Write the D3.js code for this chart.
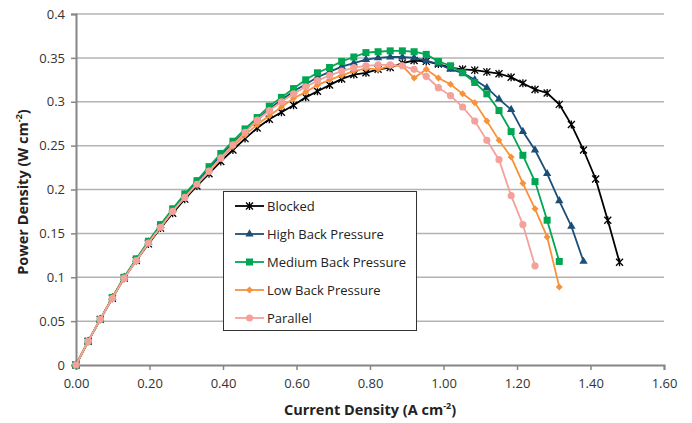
<!doctype html>
<html>
<head>
  <script src="https://cdnjs.cloudflare.com/ajax/libs/d3/7.8.5/d3.min.js"></script>
  <style>
    body { margin: 0; background: #fff; }
    svg { display: block; font-family: "Open Sans", sans-serif; }
  </style>
</head>
<body>
<svg id="chart" width="692" height="423"></svg>
<script>
  // current density (A cm-2), shared by all series
  var current = [0.000, 0.033, 0.066, 0.099, 0.131, 0.164, 0.197, 0.230, 0.263, 0.296,
                 0.329, 0.362, 0.394, 0.427, 0.460, 0.493, 0.526, 0.559, 0.592, 0.625,
                 0.657, 0.690, 0.723, 0.756, 0.789, 0.822, 0.855, 0.888, 0.920, 0.953,
                 0.986, 1.019, 1.052, 1.085, 1.118, 1.151, 1.184, 1.216, 1.249, 1.282,
                 1.315, 1.348, 1.381, 1.414, 1.447, 1.479];

  var blocked = [0, 0.027, 0.052, 0.076, 0.099, 0.119, 0.138, 0.156, 0.173, 0.189,
                 0.204, 0.218, 0.232, 0.245, 0.258, 0.270, 0.280, 0.288, 0.296, 0.305,
                 0.312, 0.319, 0.326, 0.331, 0.333, 0.337, 0.339, 0.344, 0.347, 0.346,
                 0.343, 0.339, 0.337, 0.336, 0.334, 0.332, 0.328, 0.321, 0.314, 0.310,
                 0.297, 0.274, 0.245, 0.212, 0.165, 0.117];
  var highBP = [0, 0.027, 0.052, 0.077, 0.100, 0.120, 0.140, 0.159, 0.177, 0.194,
                0.209, 0.224, 0.239, 0.253, 0.266, 0.279, 0.292, 0.302, 0.312, 0.320,
                0.328, 0.334, 0.340, 0.344, 0.348, 0.350, 0.351, 0.351, 0.350, 0.347,
                0.343, 0.337, 0.333, 0.325, 0.316, 0.303, 0.291, 0.266, 0.245, 0.218,
                0.187, 0.158, 0.118];
  var mediumBP = [0, 0.027, 0.052, 0.077, 0.100, 0.121, 0.141, 0.160, 0.178, 0.195,
                  0.210, 0.226, 0.241, 0.255, 0.269, 0.282, 0.295, 0.305, 0.315, 0.325,
                  0.333, 0.339, 0.346, 0.351, 0.356, 0.357, 0.358, 0.358, 0.357, 0.354,
                  0.346, 0.341, 0.333, 0.322, 0.309, 0.290, 0.266, 0.239, 0.209, 0.165,
                  0.118];
  var lowBP = [0, 0.027, 0.052, 0.077, 0.099, 0.119, 0.139, 0.157, 0.175, 0.191,
               0.206, 0.220, 0.235, 0.249, 0.262, 0.274, 0.284, 0.294, 0.304, 0.311,
               0.319, 0.325, 0.330, 0.335, 0.338, 0.337, 0.341, 0.341, 0.327, 0.337,
               0.327, 0.320, 0.309, 0.299, 0.278, 0.256, 0.237, 0.207, 0.178, 0.146,
               0.089];
  var parallel = [0, 0.027, 0.052, 0.076, 0.099, 0.119, 0.139, 0.157, 0.175, 0.191,
                  0.206, 0.221, 0.236, 0.251, 0.265, 0.279, 0.290, 0.300, 0.309, 0.317,
                  0.324, 0.330, 0.335, 0.339, 0.341, 0.342, 0.342, 0.341, 0.337, 0.329,
                  0.316, 0.307, 0.294, 0.278, 0.256, 0.234, 0.193, 0.160, 0.113];

  var seriesNames = ["Blocked", "High Back Pressure", "Medium Back Pressure", "Low Back Pressure", "Parallel"];
  var xTicks = [0, 0.2, 0.4, 0.6, 0.8, 1.0, 1.2, 1.4, 1.6];
  var yTicks = [0, 0.05, 0.1, 0.15, 0.2, 0.25, 0.3, 0.35, 0.4];

  var series = [
    {name: seriesNames[0], values: blocked,  color: "#000000", marker: "star"},
    {name: seriesNames[1], values: highBP,   color: "#1b4f7a", marker: "triangle"},
    {name: seriesNames[2], values: mediumBP, color: "#00a651", marker: "square"},
    {name: seriesNames[3], values: lowBP,    color: "#f7923a", marker: "diamond"},
    {name: seriesNames[4], values: parallel, color: "#f4a19c", marker: "circle"}
  ];

  var svg = d3.select("#chart");
  var x = d3.scaleLinear().domain([0, 1.6]).range([76, 664]);
  var y = d3.scaleLinear().domain([0, 0.4]).range([365, 14]);

  // gridlines
  svg.append("g")
    .selectAll("line")
    .data(yTicks.slice(1))
    .enter().append("line")
    .attr("x1", x(0)).attr("x2", x(1.6))
    .attr("y1", function(d) { return y(d); })
    .attr("y2", function(d) { return y(d); })
    .attr("stroke", "#b3b3b3")
    .attr("stroke-width", 1.5);

  // axes
  var xAxis = svg.append("g")
    .attr("transform", "translate(0," + y(0) + ")")
    .call(d3.axisBottom(x).tickValues(xTicks).tickFormat(d3.format(".2f")).tickSize(5).tickPadding(9));
  var yAxis = svg.append("g")
    .attr("transform", "translate(" + x(0) + ",0)")
    .call(d3.axisLeft(y).tickValues(yTicks).tickFormat(function(d) { return d3.format("")(+d.toFixed(2)); }).tickSize(5).tickPadding(6));

  [xAxis, yAxis].forEach(function(ax) {
    ax.select(".domain").attr("stroke", "#868686").attr("stroke-width", 2);
    ax.selectAll(".tick line").attr("stroke", "#868686").attr("stroke-width", 1.5);
    ax.selectAll(".tick text").attr("font-size", 13).attr("fill", "#333")
      .attr("font-family", "'Open Sans', sans-serif");
  });

  // axis titles
  var xt = svg.append("text")
    .attr("x", 370).attr("y", 415)
    .attr("text-anchor", "middle")
    .attr("font-size", 14.5).attr("font-weight", "bold").attr("fill", "#222");
  xt.append("tspan").text("Current Density (A cm");
  xt.append("tspan").attr("dy", -6).attr("font-size", 9).text("-2");
  xt.append("tspan").attr("dy", 6).text(")");

  var yt = svg.append("text")
    .attr("transform", "translate(28,192) rotate(-90)")
    .attr("text-anchor", "middle")
    .attr("font-size", 14.5).attr("font-weight", "bold").attr("fill", "#222");
  yt.append("tspan").text("Power Density (W cm");
  yt.append("tspan").attr("dy", -6).attr("font-size", 9).text("-2");
  yt.append("tspan").attr("dy", 6).text(")");

  var line = d3.line()
    .x(function(d, i) { return x(current[i]); })
    .y(function(d) { return y(d); });

  function drawMarker(g, type, color) {
    if (type === "star") {
      g.append("path").attr("d", "M-3.5,-3.5L3.5,3.5M-3.5,3.5L3.5,-3.5M0,-4L0,4")
        .attr("stroke", color).attr("stroke-width", 1.3).attr("fill", "none");
    } else if (type === "triangle") {
      g.append("path").attr("d", d3.symbol().type(d3.symbolTriangle).size(30)())
        .attr("fill", color);
    } else if (type === "square") {
      g.append("rect").attr("x", -3.5).attr("y", -3.5).attr("width", 7).attr("height", 7)
        .attr("fill", color);
    } else if (type === "diamond") {
      g.append("path").attr("d", "M0,-3.5L3.5,0L0,3.5L-3.5,0Z").attr("fill", color);
    } else {
      g.append("circle").attr("r", 3.6).attr("fill", color);
    }
  }

  series.forEach(function(s) {
    var g = svg.append("g");
    g.append("path")
      .attr("d", line(s.values))
      .attr("fill", "none")
      .attr("stroke", s.color)
      .attr("stroke-width", 1.8);
    s.values.forEach(function(v, i) {
      var m = g.append("g").attr("transform", "translate(" + x(current[i]) + "," + y(v) + ")");
      drawMarker(m, s.marker, s.color);
    });
  });

  // legend
  var legend = svg.append("g");
  legend.append("rect")
    .attr("x", 223.5).attr("y", 191.5).attr("width", 193).attr("height", 139)
    .attr("fill", "#fff").attr("stroke", "#333").attr("stroke-width", 1);
  series.forEach(function(s, i) {
    var ly = 206 + i * 28;
    legend.append("line")
      .attr("x1", 235).attr("x2", 264).attr("y1", ly).attr("y2", ly)
      .attr("stroke", s.color).attr("stroke-width", 1.8);
    var m = legend.append("g").attr("transform", "translate(249.5," + ly + ")");
    drawMarker(m, s.marker, s.color);
    legend.append("text")
      .attr("x", 267).attr("y", ly + 4.5)
      .attr("font-size", 13).attr("fill", "#222")
      .text(s.name);
  });
</script>
</body>
</html>
